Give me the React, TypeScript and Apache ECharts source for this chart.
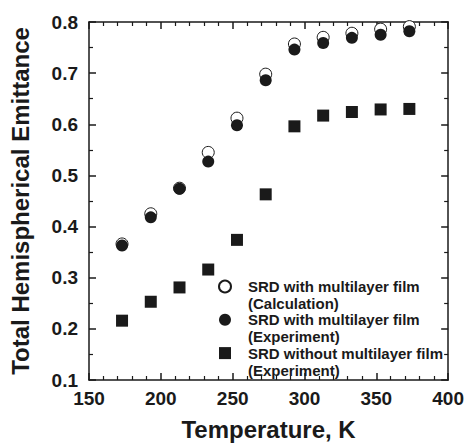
import React, { useEffect, useRef } from "react";
import * as echarts from "echarts";

const temperatures = [173, 193, 213, 233, 253, 273, 293, 313, 333, 353, 373];
const calcWithFilm = [0.366, 0.425, 0.475, 0.545, 0.612, 0.698, 0.757, 0.77, 0.778, 0.786, 0.791];
const expWithFilm = [0.363, 0.418, 0.474, 0.527, 0.598, 0.686, 0.746, 0.759, 0.769, 0.775, 0.782];
const expWithoutFilm = [0.216, 0.253, 0.281, 0.316, 0.374, 0.463, 0.596, 0.617, 0.624, 0.629, 0.63];
const seriesNames = [
  "SRD with multilayer film\n(Calculation)",
  "SRD with multilayer film\n(Experiment)",
  "SRD without multilayer film\n(Experiment)",
];

const FONT = "'Liberation Sans', Arial, Helvetica, sans-serif";
const INK = "#1a1a1a";

export default function App() {
  const ref = useRef<HTMLDivElement>(null);
  useEffect(() => {
    if (!ref.current) return;
    const chart = echarts.init(ref.current, null, { renderer: "svg" });
    const pair = (ys: number[]) => temperatures.map((t, i) => [t, ys[i]]);
    const axisCommon = {
      axisLine: { show: true, onZero: false, lineStyle: { color: INK, width: 1.5 } },
      axisTick: { show: true, inside: true, length: 7, lineStyle: { color: INK, width: 1.5 } },
      minorTick: { show: true, length: 4, lineStyle: { color: INK, width: 1.2 } },
      splitLine: { show: false },
    };
    const labelStyle = { fontFamily: FONT, fontWeight: "bold" as const, fontSize: 19, color: INK };
    chart.setOption({
      animation: false,
      backgroundColor: "#ffffff",
      grid: { left: 87, right: 18, top: 22, bottom: 62, containLabel: false },
      xAxis: [
        {
          type: "value", min: 150, max: 400, interval: 50, position: "bottom",
          ...axisCommon,
          minorTick: { ...axisCommon.minorTick, splitNumber: 5 },
          axisLabel: { ...labelStyle, margin: 9 },
          name: "Temperature, K", nameLocation: "middle", nameGap: 37,
          nameTextStyle: { fontFamily: FONT, fontWeight: "bold", fontSize: 24, color: INK },
        },
        {
          type: "value", min: 150, max: 400, interval: 50, position: "top",
          ...axisCommon,
          minorTick: { ...axisCommon.minorTick, splitNumber: 5 },
          axisLabel: { show: false },
        },
      ],
      yAxis: [
        {
          type: "value", min: 0.1, max: 0.8, interval: 0.1, position: "left",
          ...axisCommon,
          minorTick: { ...axisCommon.minorTick, splitNumber: 2 },
          axisLabel: { ...labelStyle, margin: 11, formatter: (v: number) => v.toFixed(1) },
          name: "Total Hemispherical Emittance", nameLocation: "middle", nameGap: 57, nameRotate: 90,
          nameTextStyle: { fontFamily: FONT, fontWeight: "bold", fontSize: 24, color: INK },
        },
        {
          type: "value", min: 0.1, max: 0.8, interval: 0.1, position: "right",
          ...axisCommon,
          minorTick: { ...axisCommon.minorTick, splitNumber: 2 },
          axisLabel: { show: false },
        },
      ],
      legend: {
        orient: "vertical",
        left: 213,
        top: 256,
        itemWidth: 12,
        itemHeight: 12,
        itemGap: -17.7,
        data: seriesNames,
        formatter: (name: string) => "\n" + name,
        textStyle: {
          fontFamily: FONT, fontWeight: "bold", fontSize: 15, color: INK,
          lineHeight: 17, padding: [0, 0, 0, 12],
        },
      },
      series: [
        {
          name: seriesNames[0], type: "scatter", symbol: "circle", symbolSize: 12,
          itemStyle: { color: "#ffffff", borderColor: INK, borderWidth: 1, opacity: 1 },
          data: pair(calcWithFilm), xAxisIndex: 0, yAxisIndex: 0,
        },
        {
          name: seriesNames[1], type: "scatter", symbol: "circle", symbolSize: 12,
          itemStyle: { color: INK, opacity: 1 },
          data: pair(expWithFilm), xAxisIndex: 0, yAxisIndex: 0,
        },
        {
          name: seriesNames[2], type: "scatter", symbol: "rect", symbolSize: 12,
          itemStyle: { color: INK, opacity: 1 },
          data: pair(expWithoutFilm), xAxisIndex: 0, yAxisIndex: 0,
        },
      ],
    });
    return () => chart.dispose();
  }, []);
  return (
    <div
      ref={ref}
      style={{ position: "fixed", left: 0, top: 0, width: 467, height: 446, background: "#fff" }}
    />
  );
}
